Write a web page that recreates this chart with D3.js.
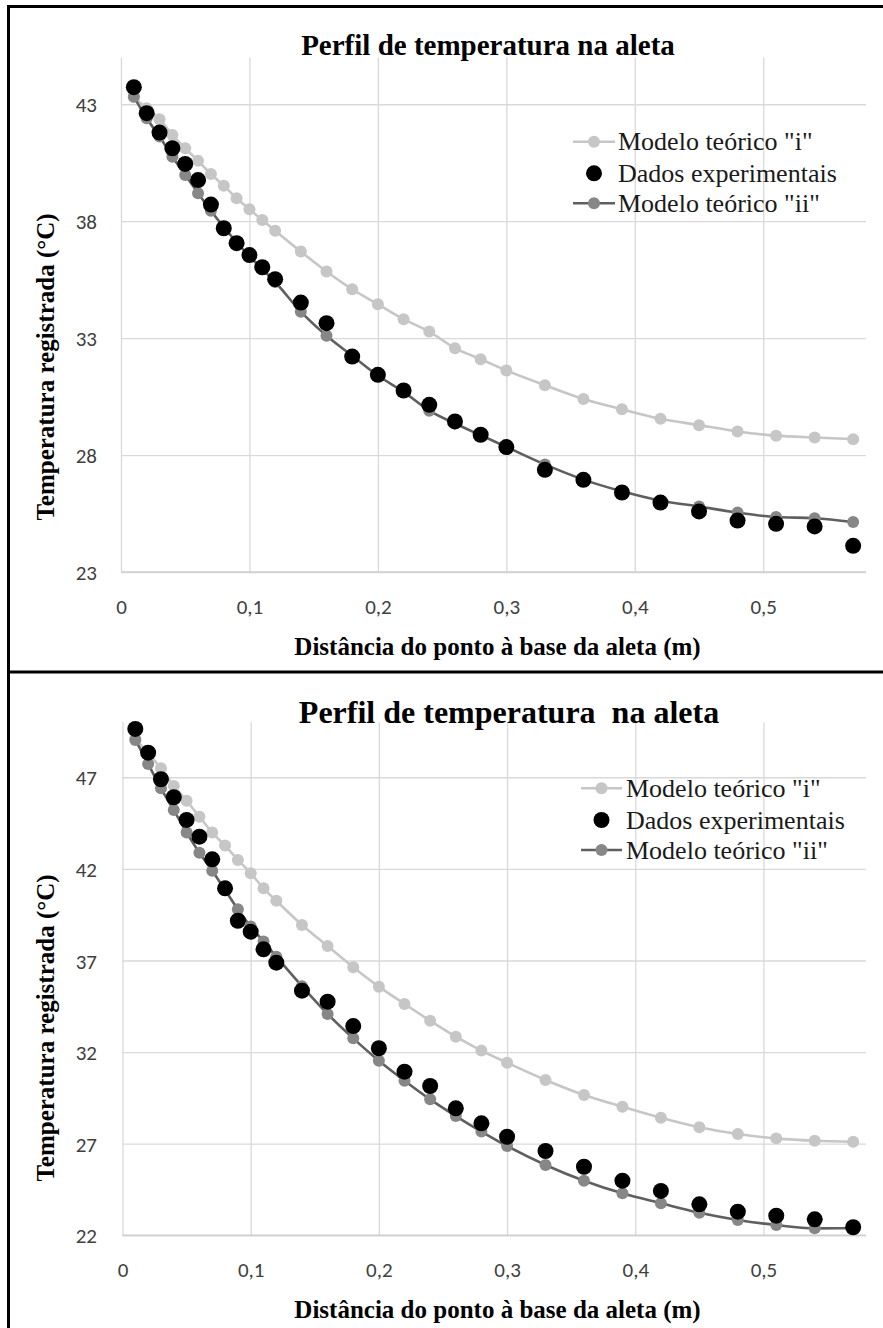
<!DOCTYPE html>
<html>
<head>
<meta charset="utf-8">
<script src="https://cdn.jsdelivr.net/npm/d3@7"></script>
<style>
  body { margin: 0; background: #fff; }
  svg { display: block; }
</style>
</head>
<body>
<div id="chart"></div>
<script>
// distância do ponto à base da aleta (m)
const distancia = [0.01, 0.02, 0.03, 0.04, 0.05, 0.06, 0.07, 0.08, 0.09, 0.10,
  0.11, 0.12, 0.14, 0.16, 0.18, 0.20, 0.22, 0.24, 0.26, 0.28,
  0.30, 0.33, 0.36, 0.39, 0.42, 0.45, 0.48, 0.51, 0.54, 0.57];

// gráfico de cima
const modeloI_1 = [43.30, 42.83, 42.36, 41.69, 41.12, 40.58, 40.02, 39.52, 38.98, 38.51,
  38.05, 37.59, 36.70, 35.85, 35.09, 34.45, 33.81, 33.28, 32.57, 32.10,
  31.62, 30.99, 30.40, 29.96, 29.55, 29.28, 29.01, 28.83, 28.75, 28.68];
const dadosExp_1 = [43.73, 42.62, 41.79, 41.12, 40.45, 39.76, 38.71, 37.70, 37.06, 36.55,
  36.03, 35.52, 34.52, 33.64, 32.21, 31.43, 30.76, 30.15, 29.44, 28.87,
  28.34, 27.37, 26.94, 26.40, 25.97, 25.59, 25.20, 25.06, 24.95, 24.12];
const modeloII_1 = [43.33, 42.40, 41.62, 40.76, 39.98, 39.20, 38.45, 37.75, 37.10, 36.50,
  35.95, 35.40, 34.13, 33.10, 32.25, 31.40, 30.70, 29.90, 29.35, 28.85,
  28.35, 27.60, 26.95, 26.45, 26.05, 25.80, 25.54, 25.35, 25.30, 25.14];

// gráfico de baixo
const modeloI_2 = [49.10, 48.30, 47.49, 46.53, 45.72, 44.85, 43.98, 43.27, 42.49, 41.76,
  40.94, 40.26, 38.94, 37.79, 36.63, 35.57, 34.63, 33.71, 32.84, 32.08,
  31.42, 30.48, 29.66, 29.02, 28.42, 27.90, 27.53, 27.29, 27.16, 27.11];
const dadosExp_2 = [49.64, 48.34, 46.89, 45.91, 44.67, 43.76, 42.52, 40.94, 39.17, 38.57,
  37.61, 36.88, 35.35, 34.75, 33.42, 32.21, 30.93, 30.15, 28.93, 28.11,
  27.38, 26.60, 25.74, 24.98, 24.42, 23.69, 23.29, 23.07, 22.87, 22.44];
const modeloII_2 = [49.04, 47.73, 46.40, 45.21, 43.98, 42.88, 41.90, 40.85, 39.80, 38.85,
  38.03, 37.21, 35.60, 34.08, 32.75, 31.53, 30.44, 29.42, 28.51, 27.66,
  26.87, 25.84, 24.98, 24.29, 23.75, 23.23, 22.84, 22.56, 22.38, 22.40];

const xTicks = [0, 0.1, 0.2, 0.3, 0.4, 0.5];
const yTicks_1 = [23, 28, 33, 38, 43];
const yTicks_2 = [22, 27, 32, 37, 42, 47];

const titulos = ["Perfil de temperatura na aleta", "Perfil de temperatura  na aleta"];
const legendas = ['Modelo teórico "i"', "Dados experimentais", 'Modelo teórico "ii"'];
const eixoX = "Distância do ponto à base da aleta (m)";
const eixoY = "Temperatura registrada (°C)";

const W = 883, H = 1328;
const serif = "'Liberation Serif', 'Times New Roman', serif";
const sans = "Carlito, Lato, 'Noto Sans', sans-serif";
const cLight = "#c6c6c6", cDarkLine = "#5f5f5f", cDarkDot = "#878787";

const svg = d3.select("#chart").append("svg")
  .attr("width", W)
  .attr("height", H);

// moldura
svg.append("g")
  .selectAll("line")
  .data([[8.5, 5, 8.5, H], [7, 6.5, W, 6.5], [7, 672, W, 672]])
  .enter().append("line")
  .attr("x1", d => d[0]).attr("y1", d => d[1])
  .attr("x2", d => d[2]).attr("y2", d => d[3])
  .style("stroke", "#000")
  .style("stroke-width", 3);

const fmt = d => String(d).replace(".", ",");

const drawChart = (cfg) => {
  const x = d3.scaleLinear().domain([0, 0.58]).range([cfg.left, cfg.right]);
  const y = d3.scaleLinear().domain(cfg.yDomain).range([cfg.bottom, cfg.top]);
  const g = svg.append("g");

  // grade vertical + rótulos x
  const xa = g.append("g")
    .attr("transform", "translate(0," + cfg.bottom + ")")
    .call(d3.axisBottom(x).tickValues(xTicks).tickFormat(fmt)
      .tickSize(-(cfg.bottom - cfg.top)));
  xa.select(".domain").remove();
  xa.selectAll("line").style("stroke", "#d9d9d9").style("stroke-width", 1.3);
  xa.selectAll("text")
    .attr("y", 42).attr("dy", 0)
    .style("font-family", sans).style("font-size", "21px").style("fill", "#404040");

  // grade horizontal + rótulos y
  const ya = g.append("g")
    .attr("transform", "translate(" + cfg.left + ",0)")
    .call(d3.axisLeft(y).tickValues(cfg.yTicks)
      .tickSize(-(cfg.right - cfg.left)));
  ya.select(".domain").remove();
  ya.selectAll("line").style("stroke", "#d9d9d9").style("stroke-width", 1.3);
  ya.selectAll("text")
    .attr("x", 97 - cfg.left).attr("dy", "0.36em")
    .style("font-family", sans).style("font-size", "21px").style("fill", "#404040");

  // eixo horizontal
  g.append("line")
    .attr("x1", cfg.left).attr("x2", cfg.right)
    .attr("y1", cfg.bottom).attr("y2", cfg.bottom)
    .style("stroke", "#cfcfcf").style("stroke-width", 1.6);

  const line = d3.line()
    .x((d, i) => x(distancia[i]))
    .y(d => y(d))
    .curve(d3.curveMonotoneX);

  const series = [
    {vals: cfg.modeloI, line: cLight, dot: cLight},
    {vals: cfg.modeloII, line: cDarkLine, dot: cDarkDot}
  ];

  series.forEach(s => {
    g.append("path")
      .datum(s.vals)
      .attr("d", line)
      .style("fill", "none")
      .style("stroke", s.line)
      .style("stroke-width", 2.6);
    g.append("g")
      .selectAll("circle")
      .data(s.vals)
      .enter().append("circle")
      .attr("cx", (d, i) => x(distancia[i]))
      .attr("cy", d => y(d))
      .attr("r", 6)
      .style("fill", s.dot);
  });

  g.append("g")
    .selectAll("circle")
    .data(cfg.dados)
    .enter().append("circle")
    .attr("cx", (d, i) => x(distancia[i]))
    .attr("cy", d => y(d))
    .attr("r", 8)
    .style("fill", "#000");

  // títulos
  g.append("text")
    .attr("x", cfg.titleX).attr("y", cfg.titleY)
    .attr("text-anchor", "middle")
    .style("white-space", "pre")
    .style("font-family", serif).style("font-weight", "bold")
    .style("font-size", cfg.titleSize + "px")
    .text(cfg.title);

  g.append("text")
    .attr("x", 497.5).attr("y", cfg.xTitleY)
    .attr("text-anchor", "middle")
    .style("font-family", serif).style("font-weight", "bold")
    .style("font-size", "25px")
    .text(eixoX);

  g.append("text")
    .attr("transform", "translate(54," + cfg.yTitleC + ") rotate(-90)")
    .attr("text-anchor", "middle")
    .style("font-family", serif).style("font-weight", "bold")
    .style("font-size", "25px")
    .text(eixoY);

  // legenda
  const lg = cfg.legend;
  const items = [
    {label: legendas[0], type: "line", line: cLight, dot: cLight},
    {label: legendas[1], type: "dot"},
    {label: legendas[2], type: "line", line: cDarkLine, dot: cDarkDot}
  ];
  items.forEach((d, i) => {
    const cy = lg.rows[i];
    if (d.type === "line") {
      g.append("line")
        .attr("x1", lg.x0).attr("x2", lg.x1)
        .attr("y1", cy).attr("y2", cy)
        .style("stroke", d.line).style("stroke-width", 2.6);
      g.append("circle")
        .attr("cx", (lg.x0 + lg.x1) / 2).attr("cy", cy).attr("r", 6)
        .style("fill", d.dot);
    } else {
      g.append("circle")
        .attr("cx", (lg.x0 + lg.x1) / 2).attr("cy", cy).attr("r", 8)
        .style("fill", "#000");
    }
    g.append("text")
      .attr("x", lg.tx).attr("y", cy + 8.5)
      .style("font-family", serif).style("font-size", "26px")
      .style("fill", "#1a1a1a")
      .text(d.label);
  });
};

drawChart({
  left: 121, right: 866, top: 57.5, bottom: 572,
  yDomain: [23, 45], yTicks: yTicks_1,
  modeloI: modeloI_1, dados: dadosExp_1, modeloII: modeloII_1,
  title: titulos[0], titleX: 488, titleY: 55, titleSize: 29,
  xTitleY: 655, yTitleC: 367,
  legend: {x0: 573, x1: 615, tx: 618, rows: [141.7, 173.3, 203.3]}
});

drawChart({
  left: 122.5, right: 866, top: 722.3, bottom: 1235.3,
  yDomain: [22, 50], yTicks: yTicks_2,
  modeloI: modeloI_2, dados: dadosExp_2, modeloII: modeloII_2,
  title: titulos[1], titleX: 509, titleY: 723, titleSize: 32,
  xTitleY: 1318, yTitleC: 1028,
  legend: {x0: 581, x1: 622, tx: 626, rows: [788.3, 820, 850]}
});
</script>
</body>
</html>
